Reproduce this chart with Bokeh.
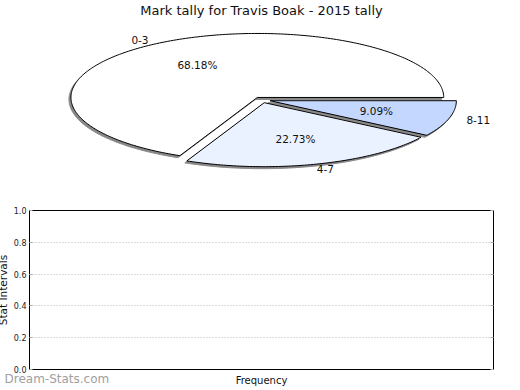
import numpy as np
from bokeh.plotting import figure
from bokeh.models import Range1d, Label, FixedTicker, LinearAxis, PrintfTickFormatter, ColumnDataSource, Title
from bokeh.layouts import column
from bokeh.embed import file_html
from bokeh.resources import INLINE
from bokeh.core.properties import value

# ---- data ----
title_text = "Mark tally for Travis Boak - 2015 tally"
categories = ["0-3", "4-7", "8-11"]
counts = [15, 5, 2]
colors = ["#ffffff", "#eaf1ff", "#c4d8ff"]
y_ticks = [0.0, 0.2, 0.4, 0.6, 0.8, 1.0]
x_label = "Frequency"
y_label = "Stat Intervals"
watermark = "Dream-Stats.com"

FONT = "DejaVu Sans"
SHIFT = 7  # page is shifted left so the y label is cut like in the original

# ---- top: 3D-ish exploded elliptical pie ----
# frame is aligned by the column with the lower plot's frame (page x 25..493)
top = figure(width=520 + SHIFT, height=200, x_range=Range1d(25, 493), y_range=Range1d(200, 0),
             output_backend="svg", toolbar_location=None, min_border=0,
             x_axis_type=None, y_axis_type=None)
top.grid.visible = False
top.outline_line_color = None

cx, cy, rx, ry, explode = 259.4, 99.4, 188.0, 64.0, 8.5
fr = np.array(counts, dtype=float) / sum(counts)
ends = np.cumsum(fr) * 2 * np.pi
starts = ends - fr * 2 * np.pi
mids = (starts + ends) / 2

xs, ys, shx, shy = [], [], [], []
for s, e, m in zip(starts, ends, mids):
    ox = cx + explode * np.cos(m)
    oy = cy - explode * (ry / rx) * np.sin(m)
    t = np.linspace(s, e, int(np.degrees(e - s)) + 2)
    px = [ox] + list(ox + rx * np.cos(t))
    py = [oy] + list(oy - ry * np.sin(t))
    xs.append(px); ys.append(py)
    shx.append([v - 2 for v in px]); shy.append([v + 2 for v in py])

top.patches(shx, shy, fill_color="#888888", line_color="#888888", line_width=1)
top.patches(xs, ys, fill_color=colors, line_color="black", line_width=1)

pct_src = ColumnDataSource(dict(
    x=cx + 0.64 * rx * np.cos(mids),
    y=cy - 0.64 * ry * np.sin(mids),
    t=["{:.2f}%".format(f * 100) for f in fr]))
top.text(x="x", y="y", text="t", source=pct_src, text_font=value(FONT),
         text_font_size=value("10.5px"), text_align="center", text_baseline="middle",
         text_color="#111111")
cat_src = ColumnDataSource(dict(
    x=cx + 1.21 * rx * np.cos(mids),
    y=cy - 1.12 * ry * np.sin(mids),
    t=categories))
top.text(x="x", y="y", text="t", source=cat_src, text_font=value(FONT),
         text_font_size=value("10.5px"), text_align="center", text_baseline="middle",
         text_color="#111111")
top.add_layout(Label(x=259, y=10, text=title_text, text_font=FONT, text_font_size="13px",
                     text_align="center", text_baseline="middle", text_color="#111111"))

# ---- bottom: empty axes ----
bot = figure(width=520 + SHIFT, height=190, x_range=Range1d(0, 1), y_range=Range1d(0, 1),
             output_backend="svg", toolbar_location=None,
             min_border_left=25 + SHIFT, min_border_right=27, min_border_top=10,
             min_border_bottom=21)
bot.outline_line_color = "black"
bot.outline_line_alpha = 1
bot.outline_line_width = 1
bot.xgrid.visible = False
bot.ygrid.ticker = FixedTicker(ticks=y_ticks)
bot.ygrid.grid_line_color = "#b8b8b8"
bot.ygrid.grid_line_dash = "1 2"

ya = bot.yaxis[0]
ya.ticker = FixedTicker(ticks=y_ticks)
ya.formatter = PrintfTickFormatter(format="%.1f")
ya.major_label_text_font = FONT
ya.major_label_text_font_size = "8px"
ya.major_label_text_color = "#222222"
ya.axis_line_color = None
ya.major_tick_in = 3
ya.major_tick_out = 0
ya.major_tick_line_color = "#b0b0b0"
ya.minor_tick_line_color = None
ya.major_label_standoff = 3
ya.axis_label = y_label
ya.axis_label_text_font = FONT
ya.axis_label_text_font_size = "10.5px"
ya.axis_label_text_font_style = "normal"
ya.axis_label_text_color = "#111111"
ya.axis_label_standoff = 2

ra = LinearAxis(ticker=FixedTicker(ticks=y_ticks), axis_line_color=None,
                major_tick_in=3, major_tick_out=0, major_tick_line_color="#b0b0b0",
                minor_tick_line_color=None,
                major_label_overrides={v: "" for v in y_ticks})
bot.add_layout(ra, "right")

xa = bot.xaxis[0]
xa.ticker = FixedTicker(ticks=[])
xa.axis_line_color = None
xa.major_tick_line_color = None
xa.minor_tick_line_color = None
xa.axis_label = x_label
xa.axis_label_text_font = FONT
xa.axis_label_text_font_size = "10px"
xa.axis_label_text_font_style = "normal"
xa.axis_label_text_color = "#111111"
xa.axis_label_standoff = -16

wm = Title(text=watermark, align="left", offset=-25, standoff=5, vertical_align="top",
           text_font=FONT, text_font_size="12px", text_font_style="normal",
           text_color="#a0a0a0")
bot.below.insert(0, wm)

layout = column(top, bot, spacing=0)
html = file_html(layout, INLINE)
css = ("<style>html{overflow:hidden !important;} body{margin:0 !important;"
       "transform:translateX(-%dpx);}</style></head>" % SHIFT)
html = html.replace("</head>", css, 1)
open("out.html", "w").write(html)
